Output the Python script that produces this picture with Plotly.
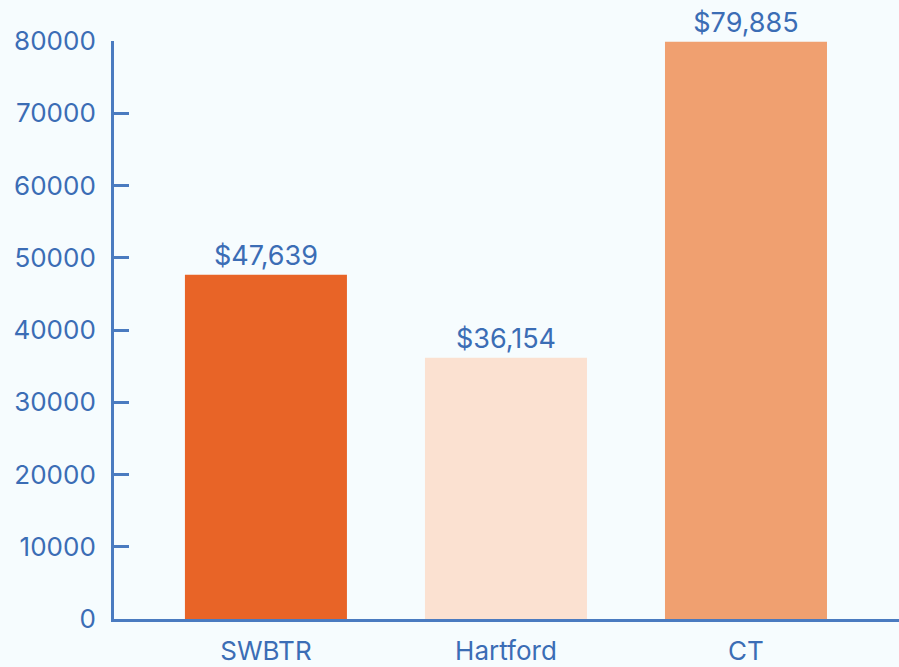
import plotly.graph_objects as go

categories = ["SWBTR", "Hartford", "CT"]
values = [47639, 36154, 79885]
bar_colors = ["#e86427", "#fbe1d1", "#f0a070"]
labels = ["$47,639", "$36,154", "$79,885"]
y_ticks = [0, 10000, 20000, 30000, 40000, 50000, 60000, 70000, 80000]

blue = "#3b6db5"
bg = "#f6fcfe"
font_family = "Inter, Noto Sans, sans-serif"

fig = go.Figure(go.Bar(
    x=[0, 1, 2],
    y=values,
    marker=dict(color=bar_colors, line=dict(width=0)),
    width=0.675,
    text=labels,
    textposition="outside",
    textfont=dict(size=27, color=blue, family=font_family),
    cliponaxis=False,
))

fig.update_layout(
    width=899, height=667,
    margin=dict(l=114, r=0, t=41, b=48),
    paper_bgcolor=bg,
    plot_bgcolor=bg,
    showlegend=False,
    font=dict(family=font_family, color=blue, size=26),
    xaxis=dict(
        range=[-0.633, 2.6375],
        tickvals=[0, 1, 2],
        ticktext=categories,
        showline=True, linecolor="#4a7bc0", linewidth=3,
        showgrid=False, zeroline=False, ticks="",
        tickfont=dict(size=26, color=blue),
        ticklabelstandoff=7,
        layer="below traces",
    ),
    yaxis=dict(
        range=[0, 80000],
        tickvals=y_ticks,
        tickformat="d",
        showline=True, linecolor="#4a7bc0", linewidth=3,
        showgrid=False, zeroline=False,
        ticks="inside", ticklen=15, tickwidth=3, tickcolor="#4a7bc0",
        tickfont=dict(size=26, color=blue),
        ticklabelstandoff=10,
        layer="below traces",
    ),
)

# page has a default body margin; remove it so the figure fills the window
fig.write_html(
    "out.html",
    config={"displayModeBar": False},
    post_script="document.body.style.margin='0';document.body.style.background='%s';" % bg,
)
